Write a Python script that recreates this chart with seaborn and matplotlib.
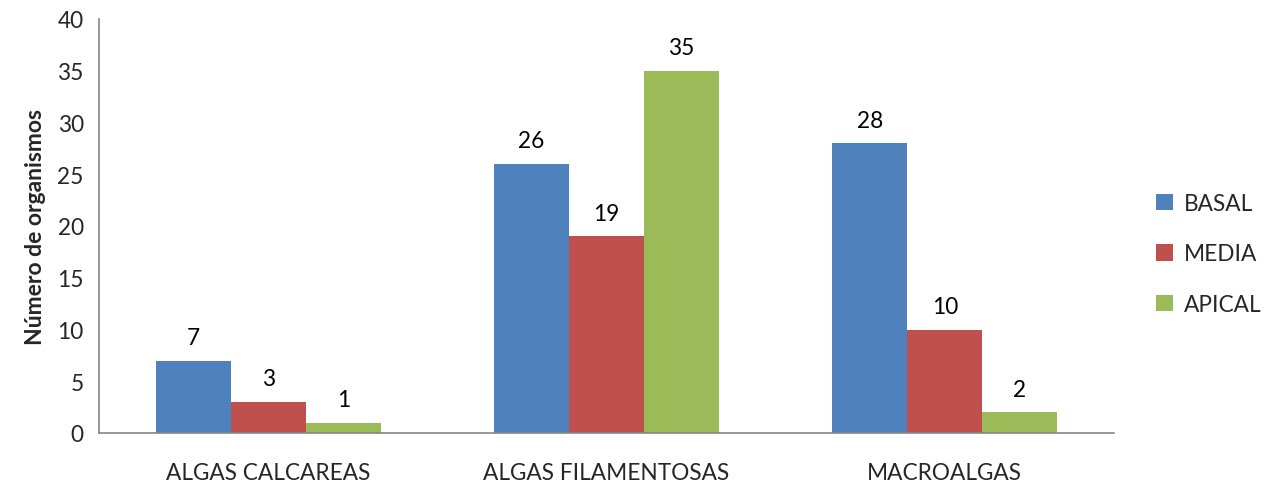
import matplotlib
matplotlib.use("Agg")
import matplotlib.pyplot as plt
from matplotlib.patches import Patch
from matplotlib.ticker import FixedLocator
import seaborn as sns
import pandas as pd

categories = ["ALGAS CALCAREAS", "ALGAS FILAMENTOSAS", "MACROALGAS"]
zones = ["BASAL", "MEDIA", "APICAL"]
basal = [7, 26, 28]
media = [3, 19, 10]
apical = [1, 35, 2]
colors = ["#4F81BD", "#C0504D", "#9BBB59"]

rows = []
for zone, vals in zip(zones, [basal, media, apical]):
    for cat, v in zip(categories, vals):
        rows.append({"categoria": cat, "zona": zone, "valor": v})
df = pd.DataFrame(rows)

sns.set_style("white")
plt.rcParams["font.family"] = ["Lato", "DejaVu Sans"]

FS = 16.3

fig = plt.figure(figsize=(12.67, 4.89), dpi=100)
ax = fig.add_axes([99 / 1267, 55 / 489, (1114 - 99) / 1267, (434 - 20) / 489])

sns.barplot(data=df, x="categoria", y="valor", hue="zona", order=categories,
            hue_order=zones, palette=colors, width=0.666, saturation=1,
            linewidth=0, ax=ax, legend=False)

for cont in ax.containers:
    ax.bar_label(cont, padding=9, fontsize=FS, color="#000000")

ax.set_ylim(0, 40)
ax.set_yticks(range(0, 41, 5))
ax.set_xlim(-0.5, 2.5)
ax.set_xlabel("")
ax.set_ylabel("Número de organismos", fontsize=16.5, fontweight="bold", labelpad=8)
ax.tick_params(axis="y", labelsize=FS, length=6, width=1.2, color="#868686",
               direction="out", pad=5)
ax.tick_params(axis="x", which="major", labelsize=FS, length=0, pad=21)
ax.xaxis.set_minor_locator(FixedLocator([-0.5, 0.5, 1.5, 2.5]))
ax.tick_params(axis="x", which="minor", length=6, width=1.2, color="#868686",
               direction="out")

for side in ["top", "right"]:
    ax.spines[side].set_visible(False)
for side in ["left", "bottom"]:
    ax.spines[side].set_color("#868686")
    ax.spines[side].set_linewidth(1.2)

handles = [Patch(facecolor=c, edgecolor="none") for c in colors]
fig.legend(handles, zones, loc="center left", bbox_to_anchor=(1136 / 1267, 1 - 255 / 489),
           frameon=False, fontsize=FS, handlelength=0.75, handleheight=0.75,
           labelspacing=1.3, handletextpad=0.45)

fig.savefig("out.png", dpi=100)
